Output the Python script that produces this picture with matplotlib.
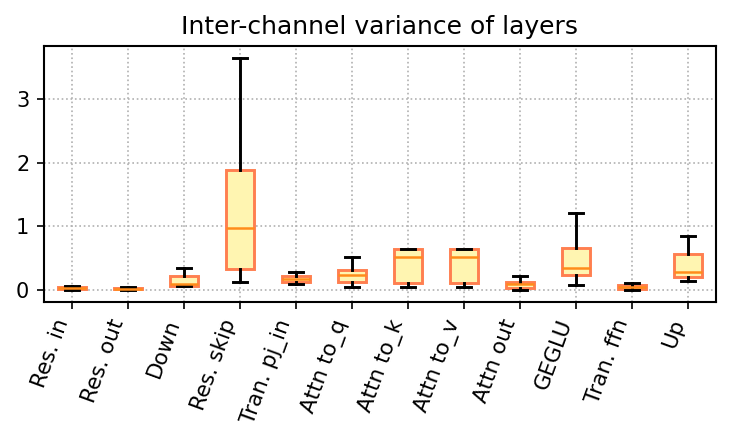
import matplotlib
matplotlib.use("Agg")
import matplotlib.pyplot as plt

layers = ["Res. in", "Res. out", "Down", "Res. skip", "Tran. pj_in", "Attn to_q",
          "Attn to_k", "Attn to_v", "Attn out", "GEGLU", "Tran. ffn", "Up"]

whislo = [0.01, 0.01, 0.062, 0.130, 0.099, 0.057, 0.057, 0.057, 0.0, 0.089, 0.010, 0.146]
q1 = [0.02, 0.02, 0.073, 0.333, 0.130, 0.125, 0.115, 0.115, 0.042, 0.240, 0.026, 0.208]
med = [0.03, 0.025, 0.095, 0.974, 0.182, 0.245, 0.516, 0.516, 0.099, 0.344, 0.057, 0.281]
q3 = [0.045, 0.04, 0.229, 1.890, 0.224, 0.318, 0.641, 0.641, 0.135, 0.667, 0.089, 0.568]
whishi = [0.06, 0.05, 0.354, 3.636, 0.281, 0.526, 0.641, 0.641, 0.229, 1.203, 0.109, 0.854]

stats = []
for i in range(len(layers)):
    stats.append({"label": layers[i], "whislo": whislo[i], "q1": q1[i], "med": med[i],
                  "q3": q3[i], "whishi": whishi[i], "fliers": []})

plt.rcParams["axes.linewidth"] = 1.0

fig, ax = plt.subplots(figsize=(4.88, 2.9467), dpi=150)

ax.bxp(stats, patch_artist=True, showfliers=False,
       boxprops=dict(facecolor="#fff5b1", edgecolor="#ff7f50", linewidth=1.4),
       medianprops=dict(color="#ff8c1a", linewidth=1.2),
       whiskerprops=dict(color="black", linewidth=1.4),
       capprops=dict(color="black", linewidth=1.4))

ax.set_title("Inter-channel variance of layers")
ax.grid(True, linestyle=":", color="#b0b0b0")
ax.set_axisbelow(True)
plt.setp(ax.get_xticklabels(), rotation=70, ha="right", fontsize=10.3)

fig.subplots_adjust(left=0.06, right=0.978, top=0.895, bottom=0.317)
fig.savefig("out.png", dpi=150)
